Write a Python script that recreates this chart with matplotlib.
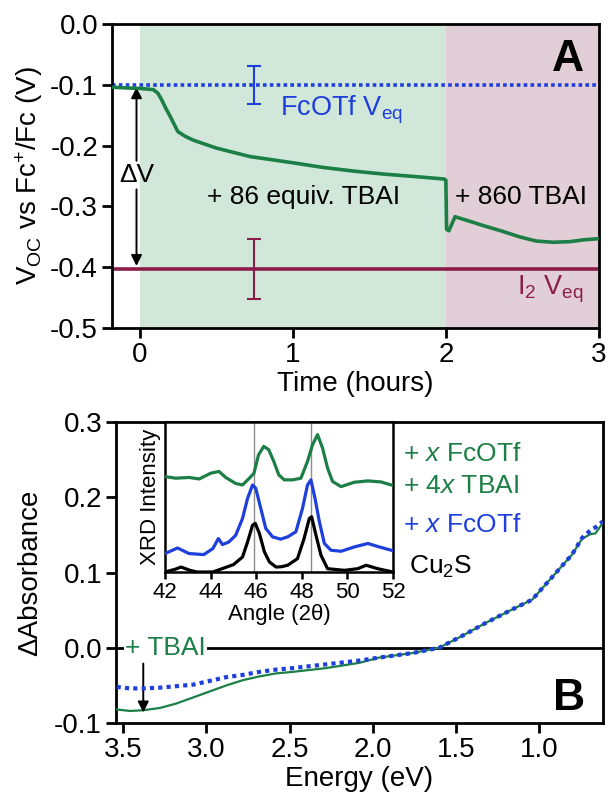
import matplotlib
matplotlib.use("Agg")
import matplotlib.pyplot as plt

plt.rcParams['font.family'] = ['Liberation Sans', 'DejaVu Sans']
plt.rcParams['mathtext.fontset'] = 'custom'
plt.rcParams['mathtext.rm'] = 'Liberation Sans'
plt.rcParams['mathtext.it'] = 'Liberation Sans:italic'

# ---- Panel A: open-circuit potential vs time ----
time_h = [-0.18, -0.1, 0.0, 0.05, 0.09, 0.12, 0.145, 0.17, 0.2, 0.25, 0.3, 0.35,
          0.5, 0.72, 1.02, 1.2, 1.4, 1.6, 1.8, 1.99, 2.0, 2.005, 2.02, 2.06,
          2.15, 2.25, 2.37, 2.48, 2.59, 2.7, 2.81, 2.9, 3.0]
voc = [-0.104, -0.105, -0.106, -0.107, -0.108, -0.114, -0.125, -0.138, -0.152,
       -0.177, -0.185, -0.191, -0.204, -0.218, -0.229, -0.236, -0.242, -0.247,
       -0.251, -0.255, -0.257, -0.338, -0.340, -0.317, -0.324, -0.332, -0.341,
       -0.350, -0.357, -0.359, -0.358, -0.355, -0.353]
fcotf_veq, fcotf_err = -0.1, 0.031
i2_veq, i2_err = -0.403, 0.049

# ---- Panel B: difference absorbance spectra ----
energy = [3.54, 3.46, 3.38, 3.28, 3.18, 3.08, 2.98, 2.88, 2.78, 2.68, 2.58, 2.48,
          2.28, 2.08, 1.96, 1.76, 1.60, 1.46, 1.32, 1.16, 1.04, 0.96, 0.88, 0.80,
          0.74, 0.69, 0.66, 0.615]
dabs_tbai = [-0.082, -0.084, -0.083, -0.080, -0.074, -0.066, -0.058, -0.050,
             -0.043, -0.038, -0.034, -0.032, -0.027, -0.020, -0.013, -0.007, 0.0,
             0.016, 0.033, 0.051, 0.064, 0.084, 0.104, 0.124, 0.145, 0.151,
             0.152, 0.166]
dabs_fcotf = [-0.052, -0.054, -0.054, -0.053, -0.051, -0.049, -0.044, -0.039,
              -0.036, -0.032, -0.029, -0.027, -0.022, -0.017, -0.013, -0.007, 0.0,
              0.016, 0.033, 0.051, 0.064, 0.084, 0.104, 0.124, 0.146, 0.156,
              0.160, 0.168]

# ---- Inset: XRD patterns (normalised, offset) ----
ang_cu2s = [42.0, 42.44, 42.7, 43.1, 43.4, 44.1, 44.5, 45.0, 45.4, 45.62, 45.84,
            45.96, 46.14, 46.36, 46.58, 46.87, 47.1, 47.38, 47.81, 48.1, 48.33,
            48.43, 48.62, 48.84, 49.13, 49.87, 50.45, 50.82, 51.33, 52.0]
xrd_cu2s = [0.0, 0.018, 0.033, 0.011, 0.0, 0.0, 0.022, 0.049, 0.1, 0.2, 0.312,
            0.324, 0.257, 0.134, 0.067, 0.033, 0.035, 0.045, 0.089, 0.223, 0.357,
            0.368, 0.246, 0.112, 0.022, 0.011, 0.022, 0.045, 0.022, 0.0]
ang_fc = [42.0, 42.55, 43.05, 43.7, 44.1, 44.34, 44.52, 44.8, 45.1, 45.4, 45.62,
          45.84, 45.98, 46.2, 46.42, 46.72, 47.07, 47.38, 47.74, 48.03, 48.25,
          48.4, 48.58, 48.77, 48.99, 49.28, 49.72, 50.3, 50.9, 51.33, 51.92, 52.0]
xrd_fc = [0.123, 0.16, 0.123, 0.116, 0.156, 0.223, 0.183, 0.2, 0.245, 0.357, 0.49,
          0.58, 0.558, 0.424, 0.29, 0.234, 0.219, 0.234, 0.268, 0.424, 0.58, 0.614,
          0.49, 0.335, 0.19, 0.145, 0.138, 0.167, 0.19, 0.17, 0.145, 0.145]
ang_fc_tbai = [42.0, 42.47, 43.05, 43.5, 44.0, 44.37, 44.66, 45.1, 45.4, 45.7, 45.9,
               46.1, 46.33, 46.55, 46.77, 46.99, 47.23, 47.6, 47.96, 48.25, 48.47,
               48.69, 48.91, 49.13, 49.35, 49.72, 50.3, 50.9, 51.48, 51.92, 52.0]
xrd_fc_tbai = [0.636, 0.625, 0.63, 0.62, 0.658, 0.67, 0.63, 0.59, 0.58, 0.625,
               0.658, 0.78, 0.837, 0.815, 0.737, 0.647, 0.614, 0.614, 0.625, 0.737,
               0.848, 0.915, 0.826, 0.692, 0.603, 0.569, 0.598, 0.607, 0.6, 0.58,
               0.58]
ref_peaks = [45.9, 48.42]

GREEN = '#1b7f46'
BLUE = '#1e3fdc'
MAROON = '#8b1d4a'
FS = 20

fig = plt.figure(figsize=(6.08, 7.94), dpi=100)

# ===================== Panel A =====================
axA = fig.add_axes([0.1842, 0.5869, 0.801, 0.3829])
axA.axvspan(0, 2, color='#d0e7da', lw=0, zorder=0)
axA.axvspan(2, 3, color='#e2ced6', lw=0, zorder=0)
axA.axhline(fcotf_veq, color=BLUE, lw=2.6, ls=(0, (1, 0.9)), zorder=2)
axA.axhline(i2_veq, color=MAROON, lw=2.6, zorder=2)
axA.errorbar([0.75], [fcotf_veq], yerr=[fcotf_err], color=BLUE, lw=1.5,
             capsize=5, capthick=1.5, fmt='none', zorder=3)
axA.errorbar([0.75], [i2_veq], yerr=[i2_err], color=MAROON, lw=1.5,
             capsize=5, capthick=1.5, fmt='none', zorder=3)
axA.plot(time_h, voc, color=GREEN, lw=2.6, zorder=4, solid_joinstyle='round')

# ΔV double arrow
axA.annotate('', xy=(-0.02, -0.104), xytext=(-0.02, -0.225),
             arrowprops=dict(arrowstyle='-|>', color='black', lw=1.4,
                             mutation_scale=16, shrinkA=0, shrinkB=0))
axA.annotate('', xy=(-0.02, -0.398), xytext=(-0.02, -0.272),
             arrowprops=dict(arrowstyle='-|>', color='black', lw=1.4,
                             mutation_scale=16, shrinkA=0, shrinkB=0))
axA.text(-0.02, -0.249, 'ΔV', ha='center', va='center', fontsize=19)
axA.text(1.32, -0.142, 'FcOTf V$_{\\mathregular{eq}}$', color=BLUE, fontsize=19.5,
         ha='center', va='center')
axA.text(1.07, -0.285, '+ 86 equiv. TBAI', fontsize=19, ha='center', va='center')
axA.text(2.49, -0.285, '+ 860 TBAI', fontsize=19, ha='center', va='center')
axA.text(2.68, -0.437, 'I$_2$ V$_{\\mathregular{eq}}$', color=MAROON, fontsize=19.5,
         ha='center', va='center')
axA.text(2.80, -0.058, 'A', fontsize=32, fontweight='bold', ha='center', va='center')

axA.set_xlim(-0.18, 3.0)
axA.set_ylim(-0.5, 0.0)
axA.set_xticks([0, 1, 2, 3])
axA.set_yticks([0.0, -0.1, -0.2, -0.3, -0.4, -0.5])
axA.set_yticklabels(['0.0', '-0.1', '-0.2', '-0.3', '-0.4', '-0.5'])
axA.set_xlabel('Time (hours)', fontsize=FS, labelpad=2)
axA.set_ylabel('V$_{\\mathregular{OC}}$ vs Fc$^{+}$/Fc (V)', fontsize=FS, labelpad=4)

# ===================== Panel B =====================
axB = fig.add_axes([0.1908, 0.0894, 0.801, 0.379])
axB.axhline(0.0, color='black', lw=2.0, zorder=1)
axB.plot(energy, dabs_tbai, color=GREEN, lw=1.6, zorder=3)
axB.plot(energy, dabs_fcotf, color=BLUE, lw=3.0, ls=(0, (1, 1)), zorder=4)
axB.text(3.49, 0.0, '+ TBAI', color=GREEN, fontsize=19, ha='left', va='center',
         zorder=5, bbox=dict(facecolor='white', edgecolor='none', pad=0.5))
axB.annotate('', xy=(3.38, -0.086), xytext=(3.38, -0.021),
             arrowprops=dict(arrowstyle='-|>', color='black', lw=1.4,
                             mutation_scale=16, shrinkA=0, shrinkB=0))
axB.text(1.815, 0.257, '+ $\\mathit{x}$ FcOTf', color=GREEN, fontsize=19,
         ha='left', va='center')
axB.text(1.815, 0.215, '+ 4$\\mathit{x}$ TBAI', color=GREEN, fontsize=19,
         ha='left', va='center')
axB.text(1.815, 0.163, '+ $\\mathit{x}$ FcOTf', color=BLUE, fontsize=19,
         ha='left', va='center')
axB.text(1.78, 0.107, 'Cu$_2$S', color='black', fontsize=19, ha='left', va='center')
axB.text(0.82, -0.067, 'B', fontsize=32, fontweight='bold', ha='center', va='center')

axB.set_xlim(3.544, 0.614)
axB.set_ylim(-0.1, 0.3)
axB.set_xticks([3.5, 3.0, 2.5, 2.0, 1.5, 1.0])
axB.set_yticks([-0.1, 0.0, 0.1, 0.2, 0.3])
axB.set_yticklabels(['-0.1', '0.0', '0.1', '0.2', '0.3'])
axB.set_xlabel('Energy (eV)', fontsize=FS, labelpad=2)
axB.set_ylabel('ΔAbsorbance', fontsize=FS, labelpad=8)

for ax in (axA, axB):
    for s in ax.spines.values():
        s.set_linewidth(2.0)
    ax.tick_params(direction='out', length=7, width=2.0, labelsize=FS, pad=3)

# ===================== Inset =====================
axI = fig.add_axes([0.2714, 0.2796, 0.375, 0.189])
for p in ref_peaks:
    axI.axvline(p, color='#8c8c8c', lw=1.0, zorder=1)
axI.plot(ang_cu2s, xrd_cu2s, color='black', lw=2.3, zorder=3)
axI.plot(ang_fc, xrd_fc, color=BLUE, lw=2.3, zorder=3)
axI.plot(ang_fc_tbai, xrd_fc_tbai, color=GREEN, lw=2.3, zorder=3)
axI.set_xlim(42, 52)
axI.set_ylim(0, 1.0)
axI.set_xticks([42, 44, 46, 48, 50, 52])
axI.set_yticks([])
axI.set_xlabel('Angle (2θ)', fontsize=16, labelpad=1)
axI.set_ylabel('XRD Intensity', fontsize=16, labelpad=3)
for s in axI.spines.values():
    s.set_linewidth(1.8)
axI.tick_params(direction='out', length=5, width=1.8, labelsize=16, pad=2)

fig.savefig('out.png', dpi=100)
